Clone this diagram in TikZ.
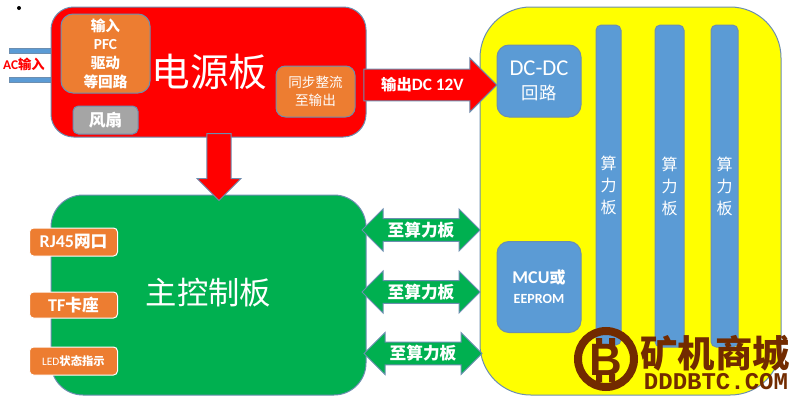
\documentclass[tikz,border=0pt]{standalone}
\usepackage{fontspec}
\usepackage{xcolor}
\usetikzlibrary{arrows.meta, positioning, shapes.arrows}
\setmainfont{Noto Sans CJK SC}
\newfontfamily\lat{Carlito}
\newfontfamily\logomono{Liberation Mono}
\newfontfamily\logosans{Liberation Sans}
\definecolor{edgeblue}{HTML}{6C8EB0}
\definecolor{boardred}{HTML}{FF0000}
\definecolor{boardyellow}{HTML}{FFFF00}
\definecolor{boxorange}{HTML}{ED7D31}
\definecolor{boxblue}{HTML}{5B9BD5}
\definecolor{boxgray}{HTML}{A5A5A5}
\definecolor{boardgreen}{HTML}{00B050}
\definecolor{logobrown}{HTML}{722B00}

\begin{document}
\begin{tikzpicture}[x=0.75pt, y=-0.75pt, every node/.style={text=white, align=center, inner sep=0pt}]
  % 定义样式
  \tikzset{
    boxsize/.style 2 args={minimum width=#1*0.75pt, minimum height=#2*0.75pt},
    board/.style={rectangle, draw=edgeblue, line width=0.75pt},
    subbox/.style={rectangle, rounded corners=9pt, draw=edgeblue, line width=0.75pt},
    orangebox/.style={subbox, fill=boxorange},
    bluebox/.style={subbox, fill=boxblue},
    bar/.style={rectangle, rounded corners=4pt, draw=edgeblue, line width=0.75pt, fill=boxblue, font=\fontsize{12}{16.5}\selectfont},
    portbox/.style={rectangle, rounded corners=3pt, draw=white, line width=0.75pt, fill=boxorange, boxsize={88}{28}, font=\bfseries\fontsize{12.5}{14}\selectfont},
    acbar/.style={rectangle, draw=edgeblue, line width=0.5pt, fill=boxblue, boxsize={44}{5}},
    bigarrow/.style={single arrow, draw=edgeblue, line width=0.75pt, fill=boardred},
    linkarrow/.style={double arrow, draw=edgeblue, line width=0.75pt, fill=boardgreen, boxsize={42}{118}, text height=12.5pt, text depth=3.25pt, font=\bfseries\fontsize{12.5}{14}\selectfont}
  }
  \useasboundingbox (0,0) rectangle (794,400);

  % 节点
  \node (dot) [circle, fill=black, minimum size=3pt] at (19,8) {};
  \node (acupper) [acbar] at (31,50.5) {};
  \node (aclower) [acbar] at (31,79.5) {};
  \node (acin) [text=boardred, font=\bfseries\fontsize{10}{12}\selectfont] at (24,64) {{\lat AC}输入};

  \node (power) [board, rounded corners=17pt, fill=boardred, boxsize={315}{130}] at (208.5,72) {};
  \node (input) [orangebox, boxsize={89}{79}, below right=5.25pt and 7.5pt of power.north west, font=\bfseries\fontsize{11}{14}\selectfont]
    {输入\\{\lat\fontsize{11.5}{14}\selectfont PFC}\\驱动\\等回路};
  \node (fan) [subbox, rounded corners=4pt, fill=boxgray, boxsize={65}{28}, font=\bfseries\fontsize{12.5}{14}\selectfont] at (105.5,120) {风扇};
  \node (powerlabel) [font=\fontsize{29}{30}\selectfont] at (209.5,72) {电源板};
  \node (sync) [orangebox, rounded corners=7pt, boxsize={79}{51}, font=\fontsize{10.2}{13.5}\selectfont] at (315.5,91.5) {同步整流\\至输出};

  \node (control) [board, rounded corners=24pt, fill=boardgreen, boxsize={315}{200}] at (208.5,295) {};
  \node (controllabel) [font=\fontsize{23.5}{25}\selectfont] at (208.5,293) {主控制板};
  \node (rj45) [portbox] at (73.5,242) {{\lat\fontsize{13.5}{14}\selectfont RJ45}网口};
  \node (tf) [portbox, boxsize={88}{26}] at (73.5,305) {{\lat\fontsize{13.5}{14}\selectfont TF}卡座};
  \node (led) [portbox, font=\bfseries\fontsize{8.5}{10}\selectfont] at (73.5,361) {{\lat\mdseries LED}状态指示};

  \node (miner) [board, rounded corners=38pt, fill=boardyellow, boxsize={301}{388}] at (630.5,201) {};
  \node (dcdc) [bluebox, boxsize={84}{72}, font=\fontsize{13}{18}\selectfont] at (539,81) {{\lat\fontsize{17}{18}\selectfont DC-DC}\\回路};
  \node (mcu) [bluebox, boxsize={84}{91}, font=\bfseries\fontsize{12}{15}\selectfont] at (539,287) {{\lat\fontsize{13.5}{15}\selectfont MCU}或\\{\lat\fontsize{10.5}{13}\selectfont EEPROM}};
  \node (bara) [bar, boxsize={25}{320}] at (608.5,185) {算\\力\\板};
  \node (barb) [bar, boxsize={29}{322}] at (669.5,186) {算\\力\\板};
  \node (barc) [bar, boxsize={27}{322}] at (724.5,186) {算\\力\\板};

  \node (logoring) [circle, draw=logobrown, line width=6pt, minimum size=42pt] at (606,359) {};
  \node (logob) [text=logobrown, font=\logosans\bfseries\fontsize{34}{34}\selectfont] at (606,360) {B};
  \fill[logobrown] (596,338) rectangle (602,346) (609,338) rectangle (615,346) (596,374) rectangle (602,382) (609,374) rectangle (615,382);
  \node (logoname) [text=logobrown, font=\bfseries\fontsize{28}{29}\selectfont] at (715,353) {矿机商城};
  \node (logourl) [text=logobrown, font=\logomono\bfseries\fontsize{18}{18}\selectfont] at (716,382) {DDDBTC.COM};

  % 箭头
  \node (out) [bigarrow, boxsize={54}{133}, text height=14pt, text depth=5.5pt, font=\bfseries\fontsize{11.5}{14}\selectfont] at (422.5,85) {输出{\lat\fontsize{13}{14}\selectfont DC 12V}};
  \node (down) [bigarrow, shape border rotate=270, boxsize={44}{67}, text width=16.5pt] at (219,161) {};
  \node (linka) [linkarrow] at (421,230) {至算力板};
  \node (linkb) [linkarrow] at (421,292) {至算力板};
  \node (linkc) [linkarrow] at (423,353.5) {至算力板};
\end{tikzpicture}
\end{document}
